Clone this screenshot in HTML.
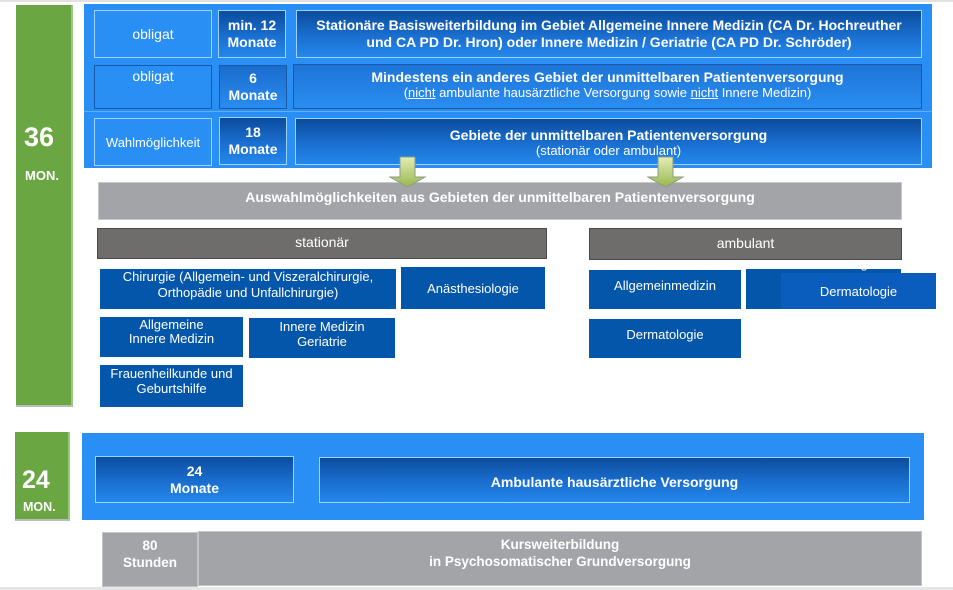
<!DOCTYPE html>
<html><head><meta charset="utf-8">
<style>
*{margin:0;padding:0;box-sizing:border-box}
body{width:953px;height:590px;background:#fff;position:relative;overflow:hidden;font-family:"Liberation Sans",Arial,sans-serif;color:#fff}
.a{position:absolute}
.c{display:flex;flex-direction:column;align-items:center;justify-content:center;text-align:center}
.green{background:#6aa743;border-right:2px solid #9cc784;border-bottom:2px solid #bcbcbc}
.panel{background:#2a8ff4}
.lb{border:1.5px solid #9fd2ff}
.db{border:1.5px solid #1b58a6}
.grad{background:linear-gradient(#0b4c9e,#1a6fcf 55%,#2487ec)}
.b{font-weight:bold}
.blue{background:#0456ab;font-size:13px;line-height:15px}
.grey{background:#a3a4a7}
.dg{background:#6f6c6c;border:1px solid #4a4a4a;font-size:14px}
</style></head><body>
<div class="a" style="left:0;top:0;width:953px;height:2px;background:#e2e2e2"></div>
<div class="a" style="left:0;top:587px;width:953px;height:3px;background:#e6e6e6"></div>

<!-- 36 MON -->
<div class="a green" style="left:16px;top:5px;width:57px;height:402px"></div>
<div class="a b" style="left:24px;top:122px;font-size:27px">36</div>
<div class="a b" style="left:25px;top:168px;font-size:13px">MON.</div>

<!-- top panel -->
<div class="a panel" style="left:84px;top:4px;width:848px;height:164px"></div>
<div class="a" style="left:84px;top:111px;width:848px;height:1px;background:#5cb0ff"></div>

<div class="a lb c" style="left:94px;top:10px;width:118px;height:48px;font-size:14px">obligat</div>
<div class="a lb grad c b" style="left:218px;top:10px;width:68px;height:48px;font-size:14px;line-height:17px">min. 12<br>Monate</div>
<div class="a lb grad c b" style="left:296px;top:10px;width:626px;height:48px;font-size:14px;line-height:17px">Stationäre Basisweiterbildung im Gebiet Allgemeine Innere Medizin (CA Dr. Hochreuther<br>und CA PD Dr. Hron) oder Innere Medizin / Geriatrie (CA PD Dr. Schröder)</div>

<div class="a db" style="left:94px;top:65px;width:118px;height:44px;font-size:14px;text-align:center;padding-top:2px">obligat</div>
<div class="a db c b" style="left:219px;top:65px;width:68px;height:44px;font-size:14px;line-height:17px;background:linear-gradient(#1a6ccc,#2a8cf0)">6<br>Monate</div>
<div class="a db" style="left:293px;top:64px;width:629px;height:45px;text-align:center;background:linear-gradient(#1d74d6,#2a8df2)">
<div class="b" style="font-size:14px;margin-top:4px">Mindestens ein anderes Gebiet der unmittelbaren Patientenversorgung</div>
<div style="font-size:13px;margin-top:0px">(<u>nicht</u> ambulante hausärztliche Versorgung sowie <u>nicht</u> Innere Medizin)</div></div>

<div class="a lb c" style="left:94px;top:118px;width:118px;height:48px;font-size:13px">Wahlmöglichkeit</div>
<div class="a lb grad c b" style="left:219px;top:117px;width:68px;height:48px;font-size:14px;line-height:17px">18<br>Monate</div>
<div class="a lb grad" style="left:295px;top:118px;width:627px;height:47px;text-align:center">
<div class="b" style="font-size:14px;margin-top:8px">Gebiete der unmittelbaren Patientenversorgung</div>
<div style="font-size:13px;margin-top:0px">(stationär oder ambulant)</div></div>

<!-- grey bar -->
<div class="a grey c b" style="left:98px;top:182px;width:804px;height:38px;font-size:14px;border:1px solid #c8c8c8;padding-bottom:8px">Auswahlmöglichkeiten aus Gebieten der unmittelbaren Patientenversorgung</div>

<!-- arrows -->
<svg class="a" style="left:389px;top:156px" width="38" height="32" viewBox="0 0 38 32">
<defs><linearGradient id="g" x1="0" y1="0" x2="0" y2="1"><stop offset="0" stop-color="#e3edb5"/><stop offset="1" stop-color="#98b74e"/></linearGradient></defs>
<path d="M11 1 H26 V21 H36 L18.5 31 L1 21 H11 Z" fill="url(#g)" stroke="#8d9a86" stroke-width="1"/></svg>
<svg class="a" style="left:647px;top:156px" width="38" height="32" viewBox="0 0 38 32">
<path d="M11 1 H26 V21 H36 L18.5 31 L1 21 H11 Z" fill="url(#g)" stroke="#8d9a86" stroke-width="1"/></svg>

<div class="a dg c" style="left:97px;top:228px;width:450px;height:31px;padding-bottom:3px">stationär</div>
<div class="a dg c" style="left:589px;top:228px;width:313px;height:32px;padding-bottom:3px">ambulant</div>

<!-- stationär boxes -->
<div class="a blue" style="left:100px;top:269px;width:296px;height:40px;text-align:center;line-height:16px">Chirurgie (Allgemein- und Viszeralchirurgie,<br>Orthopädie und Unfallchirurgie)</div>
<div class="a blue c" style="left:401px;top:267px;width:144px;height:42px">Anästhesiologie</div>
<div class="a blue" style="left:100px;top:317px;width:143px;height:40px;text-align:center;line-height:14px;padding-top:1px">Allgemeine<br>Innere Medizin</div>
<div class="a blue" style="left:249px;top:318px;width:146px;height:40px;text-align:center;padding-top:1px">Innere Medizin<br>Geriatrie</div>
<div class="a blue" style="left:100px;top:365px;width:143px;height:42px;text-align:center;padding-top:1px">Frauenheilkunde und<br>Geburtshilfe</div>

<!-- ambulant boxes -->
<div class="a blue" style="left:589px;top:270px;width:152px;height:39px;text-align:center;padding-top:8px">Allgemeinmedizin</div>
<div class="a blue" style="left:746px;top:269px;width:155px;height:40px;overflow:hidden"><div style="margin-top:-13px;padding-left:30px;font-size:13px">Kinder- und Jugend</div></div>
<div class="a c" style="left:781px;top:273px;width:155px;height:36px;background:#0b5dbd;font-size:13px">Dermatologie</div>
<div class="a blue" style="left:589px;top:319px;width:152px;height:39px;text-align:center;padding-top:8px">Dermatologie</div>

<!-- 24 MON -->
<div class="a green" style="left:15px;top:432px;width:55px;height:89px"></div>
<div class="a b" style="left:22px;top:466px;font-size:25px">24</div>
<div class="a b" style="left:23px;top:500px;font-size:12.5px">MON.</div>

<div class="a panel" style="left:82px;top:433px;width:842px;height:87px"></div>
<div class="a lb grad c b" style="left:95px;top:456px;width:199px;height:47px;font-size:14px;line-height:17px">24<br>Monate</div>
<div class="a lb grad c b" style="left:319px;top:457px;width:591px;height:46px;font-size:14px;padding-top:4px">Ambulante hausärztliche Versorgung</div>

<!-- bottom grey -->
<div class="a grey c b" style="left:102px;top:532px;width:96px;height:55px;font-size:13.5px;line-height:17px;border:1px solid #c4c4c4;padding-bottom:12px">80<br>Stunden</div>
<div class="a grey c b" style="left:198px;top:531px;width:724px;height:55px;font-size:13.5px;line-height:17px;border:1px solid #c4c4c4;padding-bottom:12px">Kursweiterbildung<br>in Psychosomatischer Grundversorgung</div>
</body></html>
